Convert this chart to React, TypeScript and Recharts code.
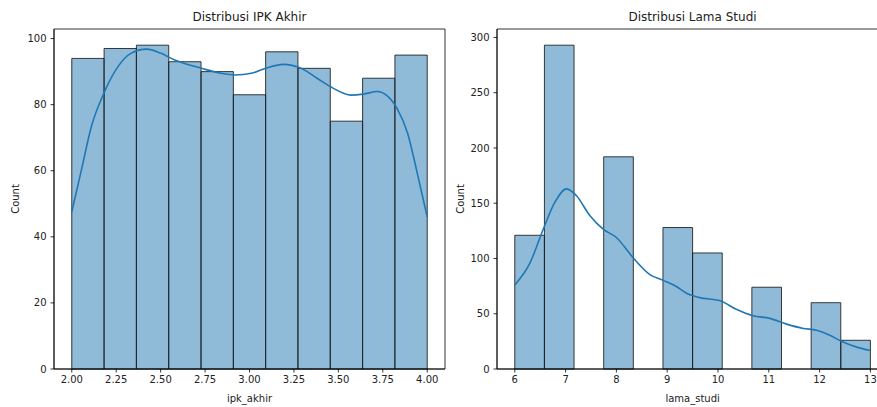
import React from 'react';
import { ComposedChart, XAxis, YAxis, Line, ReferenceArea } from 'recharts';

// ---------- Data: Distribusi IPK Akhir ----------
const ipkBinEdges = [2.0, 2.1818, 2.3636, 2.5455, 2.7273, 2.9091, 3.0909, 3.2727, 3.4545, 3.6364, 3.8182, 4.0];
const ipkCounts = [94, 97, 98, 93, 90, 83, 96, 91, 75, 88, 95];
const ipkKdeX = [2.0, 2.054, 2.11, 2.185, 2.26, 2.335, 2.42, 2.5, 2.58, 2.73, 2.84, 2.92, 3.01, 3.1, 3.19, 3.29, 3.38, 3.47, 3.57, 3.64, 3.72, 3.77, 3.83, 3.89, 3.94, 4.0];
const ipkKdeY = [47.5, 60.2, 73.3, 84, 91.5, 95.6, 96.8, 95.6, 93.5, 91, 89.5, 89, 89.5, 91.2, 92.2, 91, 88, 85, 82.9, 83.2, 84, 82.9, 78.9, 71.3, 60.2, 46];
const ipkXTicks = [2.0, 2.25, 2.5, 2.75, 3.0, 3.25, 3.5, 3.75, 4.0];
const ipkYTicks = [0, 20, 40, 60, 80, 100];

// ---------- Data: Distribusi Lama Studi ----------
const lamaBinEdges = [6.0, 6.5833, 7.1667, 7.75, 8.3333, 8.9167, 9.5, 10.0833, 10.6667, 11.25, 11.8333, 12.4167, 13.0];
const lamaCounts = [121, 293, 0, 192, 0, 128, 105, 0, 74, 0, 60, 26];
const lamaKdeX = [6.0, 6.3, 6.56, 6.79, 7.02, 7.21, 7.48, 7.74, 8.0, 8.33, 8.66, 8.92, 9.18, 9.38, 9.64, 10.03, 10.36, 10.69, 11.02, 11.35, 11.68, 11.94, 12.2, 12.46, 12.73, 13.0];
const lamaKdeY = [76, 96, 126.5, 151, 163, 157, 138.7, 126.5, 119, 100.6, 85.4, 80.2, 74.7, 68.6, 64.6, 62, 54, 48.2, 45.8, 40.6, 36.7, 35.1, 30.5, 24.4, 19.8, 16.8];
const lamaXTicks = [6, 7, 8, 9, 10, 11, 12, 13];
const lamaYTicks = [0, 50, 100, 150, 200, 250, 300];

const FONT = '"DejaVu Sans", sans-serif';
const BAR_FILL = '#1f77b4';
const LINE_COLOR = '#1f77b4';
const TEXT = '#222';

const toPoints = (xs: number[], ys: number[]) => xs.map((x, i) => ({ x, y: ys[i] }));
const toBins = (edges: number[], counts: number[]) =>
  counts.map((c, i) => ({ x1: edges[i], x2: edges[i + 1], c })).filter((b) => b.c > 0);

type PanelProps = {
  left: number;
  width: number;
  marginRight: number;
  yAxisWidth: number;
  xDomain: [number, number];
  yDomain: [number, number];
  xTicks: number[];
  yTicks: number[];
  xFmt: (v: number) => string;
  bins: { x1: number; x2: number; c: number }[];
  kde: { x: number; y: number }[];
  title: string;
  xLabel: string;
  titleX: number;
  countX: number;
};

const axisLine = { stroke: '#000', strokeWidth: 0.8 };
const tickStyle = { fill: TEXT, fontSize: 10, fontFamily: FONT };

function Panel(p: PanelProps) {
  return (
    <>
      <div style={{ position: 'absolute', left: p.left, top: 0, width: p.width, height: 407 }}>
        <ComposedChart
          width={p.width}
          height={407}
          data={p.kde}
          margin={{ top: 29, right: p.marginRight, bottom: 0, left: 0 }}
        >
          <XAxis
            type="number"
            dataKey="x"
            domain={p.xDomain}
            allowDataOverflow
            ticks={p.xTicks}
            tickFormatter={p.xFmt}
            interval={0}
            height={38}
            axisLine={axisLine}
            tickLine={axisLine}
            tickSize={3.5}
            tickMargin={3}
            tick={tickStyle}
            label={{ value: p.xLabel, position: 'insideBottom', offset: 5, fill: TEXT, fontSize: 10, fontFamily: FONT }}
          />
          <YAxis
            type="number"
            domain={p.yDomain}
            allowDataOverflow
            ticks={p.yTicks}
            interval={0}
            width={p.yAxisWidth}
            axisLine={axisLine}
            tickLine={axisLine}
            tickSize={3.5}
            tickMargin={4}
            tick={tickStyle}
          />
          {/* axes frame (top/right spines) */}
          <ReferenceArea
            x1={p.xDomain[0]}
            x2={p.xDomain[1]}
            y1={p.yDomain[0]}
            y2={p.yDomain[1]}
            fill="none"
            stroke="#000"
            strokeWidth={0.8}
            ifOverflow="visible"
          />
          {p.bins.map((b, i) => (
            <ReferenceArea
              key={i}
              x1={b.x1}
              x2={b.x2}
              y1={0}
              y2={b.c}
              fill={BAR_FILL}
              fillOpacity={0.5}
              stroke="#1a1a1a"
              strokeOpacity={0.85}
              strokeWidth={1}
              ifOverflow="visible"
            />
          ))}
          <Line
            type="monotone"
            dataKey="y"
            stroke={LINE_COLOR}
            strokeWidth={1.6}
            dot={false}
            activeDot={false}
            isAnimationActive={false}
          />
        </ComposedChart>
      </div>
      <div
        style={{
          position: 'absolute',
          left: p.titleX,
          top: 17,
          transform: 'translate(-50%, -50%)',
          fontFamily: FONT,
          fontSize: 12,
          color: TEXT,
          whiteSpace: 'nowrap',
        }}
      >
        {p.title}
      </div>
      <div
        style={{
          position: 'absolute',
          left: p.countX,
          top: 199,
          transform: 'translate(-50%, -50%) rotate(-90deg)',
          fontFamily: FONT,
          fontSize: 10,
          color: TEXT,
          whiteSpace: 'nowrap',
        }}
      >
        Count
      </div>
    </>
  );
}

export default function App() {
  return (
    <div
      style={{
        position: 'absolute',
        left: 0,
        top: 0,
        width: 877,
        height: 407,
        overflow: 'hidden',
        background: '#fff',
      }}
    >
      <Panel
        left={0}
        width={460}
        marginRight={15}
        yAxisWidth={54}
        xDomain={[1.9, 4.1]}
        yDomain={[0, 102.9]}
        xTicks={ipkXTicks}
        yTicks={ipkYTicks}
        xFmt={(v) => v.toFixed(2)}
        bins={toBins(ipkBinEdges, ipkCounts)}
        kde={toPoints(ipkKdeX, ipkKdeY)}
        title="Distribusi IPK Akhir"
        xLabel="ipk_akhir"
        titleX={249.5}
        countX={15}
      />
      <Panel
        left={437}
        width={460}
        marginRight={8.8}
        yAxisWidth={60}
        xDomain={[5.65, 13.35]}
        yDomain={[0, 307.65]}
        xTicks={lamaXTicks}
        yTicks={lamaYTicks}
        xFmt={(v) => String(v)}
        bins={toBins(lamaBinEdges, lamaCounts)}
        kde={toPoints(lamaKdeX, lamaKdeY)}
        title="Distribusi Lama Studi"
        xLabel="lama_studi"
        titleX={692.5}
        countX={460}
      />
    </div>
  );
}
